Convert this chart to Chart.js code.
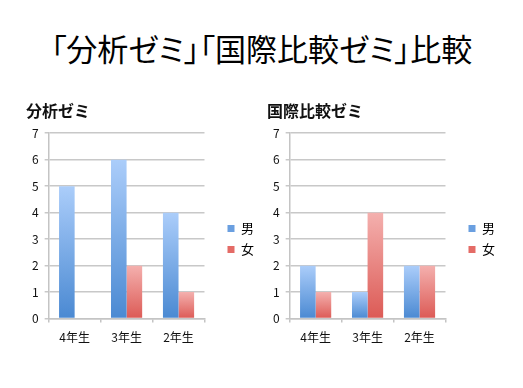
<!DOCTYPE html>
<html>
<head>
<meta charset="utf-8">
<script src="https://cdn.jsdelivr.net/npm/chart.js@4.4.1/dist/chart.umd.min.js"></script>
<style>
    body { margin: 0; background: #fff; width: 523px; height: 388px; overflow: hidden; position: relative; font-family: "Noto Sans CJK JP", sans-serif; }
    #title { position: absolute; left: 0; top: 25px; width: 523px; text-align: center; font-size: 31px; color: #000; font-feature-settings: "palt"; }
    .box { position: absolute; top: 95px; width: 238px; height: 280px; }
    #leftBox { left: 26px; }
    #rightBox { left: 267px; }
</style>
</head>
<body>
<div id="title">「分析ゼミ」「国際比較ゼミ」比較</div>
<div class="box" id="leftBox"><canvas id="leftChart"></canvas></div>
<div class="box" id="rightBox"><canvas id="rightChart"></canvas></div>
<script>
// Data
const grades = ['4年生', '3年生', '2年生'];
const seriesNames = ['男', '女'];
const analysisMale = [5, 6, 4];
const analysisFemale = [0, 2, 1];
const intlMale = [2, 1, 2];
const intlFemale = [1, 4, 2];
const yTicks = [0, 1, 2, 3, 4, 5, 6, 7];

const FONT = '"Noto Sans CJK JP", sans-serif';
const legendColors = ['#6a9fe0', '#e46b66'];

// Each bar gets its own light-top / dark-bottom gradient
function barGradient(top, bottom, mid) {
    return (ctx) => {
        const chart = ctx.chart;
        if (!chart.chartArea || ctx.type !== 'data') return mid;
        const y = chart.scales.y;
        const y0 = y.getPixelForValue(0);
        const y1 = y.getPixelForValue(ctx.raw);
        if (y0 === y1) return mid;
        const g = chart.ctx.createLinearGradient(0, y1, 0, y0);
        g.addColorStop(0, top);
        g.addColorStop(1, bottom);
        return g;
    };
}

const blue = barGradient('#abcdfa', '#4a89d2', legendColors[0]);
const red = barGradient('#f4b0ae', '#dc5a55', legendColors[1]);

// Push the legend a bit away from the plot and lower it
const LEGEND_GAP = 15;
const LEGEND_DROP = 15;
const legendShift = {
    id: 'legendShift',
    beforeInit(chart) {
        const legend = chart.legend;
        const fit = legend.fit;
        legend.fit = function () {
            fit.call(this);
            this.width += LEGEND_GAP;
        };
    },
    afterLayout(chart) {
        const legend = chart.legend;
        legend.left += LEGEND_GAP;
        legend.top += LEGEND_DROP;
        legend.bottom += LEGEND_DROP;
    }
};

function makeChart(id, title, male, female) {
    return new Chart(document.getElementById(id), {
        type: 'bar',
        data: {
            labels: grades,
            datasets: [
                { label: seriesNames[0], data: male, backgroundColor: blue },
                { label: seriesNames[1], data: female, backgroundColor: red }
            ]
        },
        plugins: [legendShift],
        options: {
            responsive: true,
            maintainAspectRatio: false,
            animation: false,
            datasets: { bar: { categoryPercentage: 0.6, barPercentage: 1.0 } },
            layout: { padding: { left: 0, right: 0, top: 0, bottom: 22 } },
            plugins: {
                title: {
                    display: true,
                    text: title,
                    align: 'start',
                    color: '#111',
                    font: { family: FONT, size: 16, weight: 'bold' },
                    padding: { top: 6, bottom: 13 }
                },
                legend: {
                    position: 'right',
                    labels: {
                        boxWidth: 7,
                        boxHeight: 7,
                        padding: 8,
                        color: '#000',
                        font: { family: FONT, size: 13 },
                        generateLabels: (chart) => {
                            const items = Chart.defaults.plugins.legend.labels.generateLabels(chart);
                            items.forEach((item, i) => { item.fillStyle = legendColors[i]; });
                            return items;
                        }
                    }
                },
                tooltip: { enabled: false }
            },
            scales: {
                x: {
                    grid: { offset: true, drawOnChartArea: false, color: '#c4c4c4', lineWidth: 1.5, tickLength: 4 },
                    border: { color: '#c4c4c4', width: 1.5 },
                    ticks: { color: '#111', font: { family: FONT, size: 12 }, padding: 8 }
                },
                y: {
                    min: 0,
                    max: yTicks[yTicks.length - 1],
                    afterBuildTicks: (axis) => { axis.ticks = yTicks.map(v => ({ value: v })); },
                    grid: { color: '#c8c8c8', lineWidth: 1.5, drawTicks: true, tickLength: 4 },
                    border: { color: '#c4c4c4', width: 1.5 },
                    ticks: { color: '#111', font: { family: FONT, size: 12 }, padding: 6 }
                }
            }
        }
    });
}

makeChart('leftChart', '分析ゼミ', analysisMale, analysisFemale);
makeChart('rightChart', '国際比較ゼミ', intlMale, intlFemale);
</script>
</body>
</html>
